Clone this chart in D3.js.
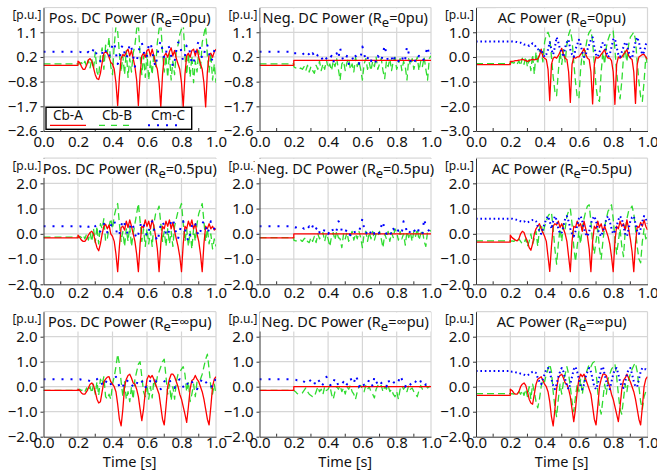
<!DOCTYPE html>
<html lang="en">
<head>
<meta charset="utf-8">
<title>DC / AC power</title>
<script src="https://cdn.jsdelivr.net/npm/d3@7"></script>
<style>
  body { margin: 0; background: #fff; }
  svg { font-family: "Noto Sans", "Open Sans", sans-serif; }
</style>
</head>
<body>
<svg width="657" height="472"></svg>
<script>
// sample times after the fault (s); before 0.2 s every series is flat
var tPost = [0.20,0.21,0.22,0.23,0.24,0.25,0.26,0.27,0.28,0.29,
             0.30,0.31,0.32,0.33,0.34,0.35,0.36,0.37,0.38,0.39,
             0.40,0.41,0.42,0.43,0.44,0.45,0.46,0.47,0.48,0.49,
             0.50,0.51,0.52,0.53,0.54,0.55,0.56,0.57,0.58,0.59,
             0.60,0.61,0.62,0.63,0.64,0.65,0.66,0.67,0.68,0.69,
             0.70,0.71,0.72,0.73,0.74,0.75,0.76,0.77,0.78,0.79,
             0.80,0.81,0.82,0.83,0.84,0.85,0.86,0.87,0.88,0.89,
             0.90,0.91,0.92,0.93,0.94,0.95,0.96,0.97,0.98,0.99,1.00];

var seriesNames = ["Cb-A", "Cb-B", "Cm-C"];
var xTicks = [0, 0.2, 0.4, 0.6, 0.8, 1.0];
var xMinor = [0.1, 0.3, 0.5, 0.7, 0.9];
var yTicksDcTop = [-2.6, -1.68, -0.76, 0.16, 1.08];
var yTicksAcTop = [-3, -2, -1, 0, 1];
var yTicksLow = [-2, -1, 0, 1, 2];
var reLabels = ["0", "0.5", "\u221e"];

// pre-fault levels [Cb-A, Cb-B, Cm-C]
var prePosR0 = [-0.15, -0.1, 0.35];
var preNegR0 = [-0.15, -0.1, 0.35];
var preAcR0 = [-0.31, -0.27, 0.63];
var prePosR05 = [-0.16, -0.13, 0.3];
var preNegR05 = [-0.16, -0.15, 0.3];
var preAcR05 = [-0.33, -0.28, 0.6];
var prePosRinf = [-0.15, -0.15, 0.3];
var preNegRinf = [-0.15, -0.15, 0.3];
var preAcRinf = [-0.35, -0.28, 0.63];

// ---- Re = 0 ----
var posR0A = [0.0,-0.05,-0.2,-0.3,-0.3,-0.15,0.05,0.1,0.0,-0.25,
  -0.5,-0.65,-0.68,-0.45,-0.05,0.3,0.35,0.3,0.15,-0.05,
  -0.1,-0.3,-0.8,-1.65,-0.6,0.1,0.25,0.2,0.35,0.45,
  0.2,0.4,0.1,-0.2,-0.7,-1.65,-0.5,0.2,0.3,0.15,
  0.4,0.45,0.2,0.45,0.2,-0.1,-0.3,-0.8,-1.7,-0.5,
  0.2,0.3,0.15,0.35,0.5,0.2,0.4,0.1,-0.1,-0.3,
  -0.8,-1.7,-0.5,0.2,0.3,0.15,0.4,0.45,0.2,0.45,
  0.15,-0.1,-0.3,-0.8,-1.7,-0.4,0.25,0.3,0.15,0.35,0.45];
var posR0B = [-0.1,-0.1,-0.05,-0.15,0.0,-0.2,0.05,-0.25,0.1,-0.3,
  0.35,-0.4,-0.55,0.2,0.5,-0.3,0.6,0.3,0.9,-0.2,
  -0.5,0.6,1.3,1.1,0.3,-0.4,0.2,-0.5,0.4,-0.6,
  0.1,-0.4,0.3,0.6,1.2,1.4,0.2,-0.5,0.2,-0.6,
  0.3,-0.7,0.0,-0.5,0.3,-0.2,0.7,1.2,1.4,0.3,
  -0.4,0.2,-0.6,0.3,-0.7,0.0,-0.5,0.4,0.6,1.0,
  1.2,1.4,0.2,-0.5,0.3,-0.6,0.2,-0.8,0.0,-0.4,
  0.4,-0.3,0.7,1.0,1.3,0.2,-0.4,0.3,-0.7,-0.1,-0.8];
var posR0C = [0.35,0.35,0.33,0.3,0.35,0.3,0.35,0.25,0.3,0.45,
  0.5,0.15,0.1,0.0,0.3,0.5,0.4,0.2,0.15,0.4,
  0.6,0.7,0.3,-0.1,0.0,0.5,0.6,0.3,0.1,0.3,
  0.65,0.5,0.2,-0.2,0.0,0.3,0.6,0.7,0.4,0.1,
  0.2,0.6,0.7,0.4,0.0,-0.2,0.2,0.6,0.75,0.4,
  0.1,0.3,0.6,0.5,0.2,-0.2,0.0,0.4,0.7,0.7,
  0.3,0.0,0.2,0.6,0.6,0.3,-0.1,-0.1,0.3,0.6,
  0.75,0.4,0.1,0.2,0.6,0.6,0.3,0.0,0.1,0.4,0.6];

var negR0A = [0.03,0.03,0.03,0.03,0.03,0.03,0.03,0.03,0.03,0.03,
  0.03,0.03,0.03,0.03,0.03,0.03,0.03,0.03,0.03,0.03,
  0.03,0.03,0.03,0.03,0.03,0.03,0.03,0.03,0.03,0.03,
  0.03,0.03,0.03,0.03,0.03,0.03,0.03,0.03,0.03,0.03,
  0.03,0.03,0.03,0.03,0.03,0.03,0.03,0.03,0.03,0.03,
  0.03,0.03,0.03,0.03,0.03,0.03,0.03,0.03,0.03,0.03,
  0.03,0.03,0.03,0.03,0.03,0.03,0.03,0.03,0.03,0.03,
  0.03,0.03,0.03,0.03,0.03,0.03,0.03,0.03,0.03,0.03,0.03];
var negR0B = [-0.2,-0.25,-0.25,-0.3,-0.25,-0.3,-0.2,-0.35,-0.15,-0.4,
  -0.2,-0.35,-0.45,-0.15,-0.3,0.0,-0.35,-0.1,-0.3,0.05,
  -0.25,-0.1,-0.35,0.0,-0.2,0.1,-0.3,-0.7,-0.1,0.0,
  -0.35,-0.05,0.1,-0.3,-0.1,-0.4,0.15,-0.2,0.0,-0.3,
  -0.7,-0.1,0.1,-0.3,-0.05,-0.35,0.0,-0.2,0.15,-0.3,
  -0.1,0.1,-0.35,-0.65,0.0,-0.2,0.1,-0.35,0.0,0.15,
  -0.3,-0.1,0.1,-0.35,0.0,-0.2,-0.7,0.1,-0.15,0.1,
  -0.3,-0.05,0.15,-0.35,0.0,-0.2,0.15,-0.3,-0.7,0.1,0.2];
var negR0C = [0.3,0.3,0.3,0.28,0.3,0.25,0.3,0.2,0.3,0.25,
  0.15,0.3,0.2,0.1,0.25,0.3,0.15,0.05,0.2,0.1,
  0.0,0.1,0.2,-0.05,0.15,0.3,0.1,0.5,0.2,0.0,
  0.05,0.2,-0.1,0.1,0.15,0.0,0.2,0.05,-0.1,0.15,
  0.55,0.3,0.0,0.1,0.2,0.0,0.15,0.1,-0.05,0.2,
  0.1,0.0,0.3,0.6,0.25,0.0,0.1,0.15,-0.05,0.2,
  0.1,0.0,0.15,0.2,-0.05,0.1,0.55,0.3,0.0,0.1,
  0.15,-0.05,0.1,0.2,0.05,0.0,0.1,0.3,0.55,0.2,0.3];

var acR0A = [-0.18,-0.18,-0.17,-0.15,-0.15,-0.13,-0.12,-0.1,-0.12,-0.15,
  -0.18,-0.15,-0.12,-0.1,-0.12,-0.1,-0.08,0.05,0.32,0.0,
  -0.05,-0.1,-0.5,-1.77,-0.3,-0.05,0.0,-0.05,0.05,0.2,
  0.35,0.1,-0.05,-0.1,-0.6,-1.84,-0.3,0.0,-0.05,0.0,
  0.0,0.1,0.2,0.35,0.1,-0.05,-0.1,-0.6,-1.9,-0.3,
  0.0,-0.05,0.0,0.1,0.2,0.3,0.05,-0.05,-0.05,-0.15,
  -0.6,-1.92,-0.3,0.0,-0.05,0.0,0.1,0.2,0.3,0.05,
  -0.05,-0.1,-0.6,-1.88,-0.3,0.0,0.05,0.1,0.1,0.0,-0.1];
var acR0B = [-0.25,-0.22,-0.25,-0.2,-0.3,-0.15,-0.35,-0.05,-0.3,0.0,
  -0.4,-0.1,-0.55,0.1,-0.7,0.2,-0.3,0.3,0.25,-0.2,
  0.6,0.9,1.0,0.8,0.0,-0.8,-1.4,-1.57,-0.6,0.2,
  -0.3,0.3,-0.2,0.5,0.9,1.1,0.7,-0.2,-1.0,-1.6,
  -1.7,-0.5,0.2,-0.3,0.4,0.8,1.0,1.1,0.6,-0.3,
  -1.2,-1.7,-1.8,-0.6,0.2,-0.3,0.4,0.7,0.9,1.0,
  1.05,0.3,-0.6,-1.3,-1.7,-1.0,0.0,0.3,-0.2,0.5,
  0.8,0.9,1.0,0.7,-0.2,-1.0,-1.6,-1.8,-1.0,0.0,-0.3];
var acR0C = [0.63,0.63,0.62,0.62,0.6,0.58,0.58,0.55,0.5,0.5,
  0.5,0.45,0.5,0.55,0.5,0.4,0.35,0.2,0.3,0.15,
  0.0,0.1,0.3,0.6,0.3,0.1,0.4,0.8,0.6,0.3,
  0.2,0.0,0.4,0.6,0.7,0.3,0.1,0.0,0.3,0.5,
  0.7,0.5,0.2,0.0,0.1,0.3,0.5,0.7,0.8,0.4,
  0.1,0.0,0.2,0.4,0.6,0.5,0.2,0.0,0.1,0.4,
  0.7,0.75,0.4,0.1,0.0,0.2,0.4,0.6,0.5,0.2,
  0.0,-0.05,0.3,0.6,0.8,0.6,0.3,0.1,0.2,0.5,0.65];

// ---- Re = 0.5 ----
var posR05A = [-0.05,-0.15,-0.25,-0.3,-0.3,-0.2,-0.05,0.05,0.1,0.0,
  -0.3,-0.55,-0.67,-0.4,0.0,0.3,0.38,0.2,0.35,0.0,
  -0.1,-0.3,-0.8,-1.5,-0.5,0.25,0.3,0.15,0.5,0.25,
  0.55,0.3,0.0,-0.3,-0.8,-1.5,-0.4,0.3,0.25,0.55,
  0.3,0.5,0.2,0.55,0.3,-0.1,-0.6,-1.5,-0.4,0.3,
  0.2,0.5,0.3,0.55,0.2,0.45,0.1,-0.2,-0.5,-0.9,
  -1.5,-0.4,0.3,0.2,0.5,0.3,0.55,0.2,0.4,0.0,
  -0.3,-0.8,-1.5,-0.4,0.3,0.2,0.4,0.2,0.3,0.15,0.2];
var posR05B = [-0.15,-0.1,-0.15,-0.05,-0.2,0.0,-0.25,0.05,-0.3,0.2,
  -0.35,0.3,-0.4,0.4,0.2,0.6,-0.3,-0.2,0.3,0.6,
  0.2,0.7,1.0,1.2,0.4,-0.3,0.1,-0.5,0.2,-0.3,
  0.3,-0.5,0.0,0.4,0.8,1.2,0.5,-0.3,0.2,-0.5,
  0.2,-0.4,0.1,-0.5,0.4,0.8,0.9,1.1,0.4,-0.3,
  0.1,-0.5,0.2,-0.4,0.1,-0.5,0.3,0.6,0.9,1.0,
  1.2,0.4,-0.3,0.2,-0.5,0.1,-0.6,0.2,-0.3,0.4,
  0.8,1.0,1.2,0.5,-0.3,0.2,-0.4,0.0,-0.6,-0.2,-0.5];
var posR05C = [0.3,0.3,0.28,0.3,0.25,0.3,0.28,0.3,0.35,0.4,
  0.3,0.2,0.05,0.1,0.3,0.4,0.3,0.05,0.1,0.3,
  0.5,0.55,0.2,-0.1,0.0,0.3,0.55,0.4,0.1,0.0,
  0.2,0.45,0.3,0.0,-0.2,0.0,0.3,0.5,0.4,0.1,
  -0.1,0.1,0.4,0.5,0.2,-0.1,-0.3,0.0,0.4,0.5,
  0.3,0.0,-0.1,0.2,0.5,0.6,0.3,0.0,-0.2,0.1,
  0.4,0.5,0.2,-0.1,-0.3,0.0,0.3,0.5,0.4,0.1,
  -0.1,0.1,0.4,0.5,0.3,0.0,0.2,0.5,0.4,0.2,0.3];

var negR05A = [0,0,0,0,0,0,0,0,0,0, 0,0,0,0,0,0,0,0,0,0,
  0,0,0,0,0,0,0,0,0,0, 0,0,0,0,0,0,0,0,0,0,
  0,0,0,0,0,0,0,0,0,0, 0,0,0,0,0,0,0,0,0,0,
  0,0,0,0,0,0,0,0,0,0, 0,0,0,0,0,0,0,0,0,0, 0];
var negR05B = [-0.25,-0.28,-0.28,-0.3,-0.25,-0.3,-0.2,-0.15,-0.3,-0.35,
  -0.15,-0.3,-0.1,-0.35,0.0,-0.2,-0.1,0.05,-0.3,0.0,
  -0.2,-0.5,-0.1,0.05,-0.25,0.1,-0.15,-0.2,-0.55,0.0,
  -0.2,0.05,-0.3,-0.1,0.1,-0.25,0.0,-0.2,0.1,-0.15,
  -0.55,0.0,0.1,-0.3,0.05,-0.2,0.1,-0.25,0.0,-0.1,
  0.1,-0.2,-0.55,0.0,-0.2,0.1,-0.3,0.05,-0.15,0.2,
  0.05,-0.25,0.1,-0.2,0.0,-0.45,0.1,-0.15,0.05,-0.3,
  0.1,-0.1,0.2,-0.25,0.0,0.15,-0.3,-0.5,0.1,0.15,0.1];
var negR05C = [0.28,0.25,0.28,0.25,0.3,0.25,0.2,0.3,0.2,0.3,
  0.15,0.3,0.1,0.2,0.3,0.05,0.1,0.0,0.2,0.15,
  0.0,0.1,0.25,0.1,0.0,0.15,0.5,0.45,0.1,0.0,
  0.05,0.2,0.0,-0.05,0.1,0.15,0.0,0.05,0.1,0.3,
  0.6,0.2,0.0,0.1,-0.05,0.1,0.2,0.0,0.1,0.15,
  0.0,0.3,0.5,0.1,0.0,0.15,0.1,-0.05,0.2,0.1,
  0.0,0.15,0.2,0.05,0.5,0.4,0.0,0.1,0.05,-0.05,
  0.1,0.15,0.0,0.2,0.05,0.0,0.6,0.3,0.2,0.1,0.2];

var acR05A = [-0.05,-0.15,-0.2,-0.25,-0.28,-0.2,0.0,0.1,0.05,-0.15,
  -0.3,-0.55,-0.65,-0.4,0.0,0.2,0.3,0.4,0.2,0.05,
  -0.1,-0.3,-0.9,-1.49,-0.5,0.3,0.4,0.35,0.5,0.25,
  0.4,0.2,0.0,-0.3,-0.9,-1.5,-0.3,0.3,0.25,0.5,
  0.3,0.4,0.1,0.5,0.2,-0.1,-0.6,-1.5,-0.3,0.3,
  0.2,0.5,0.25,0.4,0.1,0.3,0.1,-0.1,-0.4,-0.9,
  -1.5,-0.3,0.3,0.2,0.5,0.3,0.4,0.15,0.55,0.2,
  -0.2,-0.7,-1.5,-0.4,0.3,0.25,0.45,0.3,0.55,0.3,0.15];
var acR05B = [-0.3,-0.28,-0.3,-0.25,-0.3,-0.2,-0.3,-0.4,-0.35,-0.2,
  -0.5,-0.3,0.0,-0.4,-0.2,0.1,-0.5,0.2,0.4,0.0,
  0.3,0.5,0.7,0.8,0.85,0.2,-0.6,-1.2,-0.4,0.2,
  -0.3,0.4,0.2,0.7,0.9,1.0,0.4,-0.5,-1.1,-0.5,
  0.1,-0.4,0.3,0.6,0.9,1.1,1.15,0.5,-0.4,-0.8,
  -0.3,0.2,-0.6,-1.0,-0.3,0.3,0.6,0.9,1.0,1.15,
  0.6,-0.2,-0.8,-0.3,0.2,-0.5,-0.9,0.1,0.6,0.9,
  1.0,1.1,0.8,0.2,-0.5,-1.0,-1.15,-0.3,0.2,-0.2,-0.1];
var acR05C = [0.6,0.6,0.58,0.57,0.55,0.52,0.5,0.48,0.5,0.45,
  0.45,0.48,0.5,0.55,0.55,0.5,0.3,0.1,0.0,0.2,
  0.4,0.6,0.7,0.5,0.2,0.5,0.7,0.55,0.2,0.0,
  0.05,0.3,0.6,0.7,0.5,0.2,0.0,-0.1,0.1,0.3,
  0.6,0.7,0.5,0.2,0.0,-0.1,0.1,0.4,0.6,0.7,
  0.5,0.2,0.0,-0.1,0.1,0.3,0.6,0.7,0.5,0.2,
  0.0,0.1,0.3,0.55,0.7,0.6,0.3,0.0,-0.1,0.2,
  0.5,0.65,0.7,0.4,0.1,0.0,0.2,0.5,0.7,0.6,0.4];

// ---- Re = infinity ----
var posRinfA = [-0.1,-0.15,-0.25,-0.3,-0.3,-0.2,-0.05,0.1,0.15,0.05,
  -0.2,-0.5,-0.65,-0.6,-0.2,0.2,0.3,0.38,0.4,0.2,
  0.1,0.0,-0.2,-0.7,-1.3,-1.57,-0.9,0.0,0.3,0.45,
  0.5,0.35,0.15,0.1,-0.1,-0.4,-0.9,-1.36,-0.9,-0.2,
  0.3,0.45,0.35,0.45,0.3,0.1,-0.1,-0.3,-0.8,-1.3,
  -1.53,-0.8,0.0,0.3,0.5,0.5,0.4,0.2,0.0,-0.3,
  -0.5,-0.8,-1.1,-1.43,-0.8,-0.1,0.25,0.3,0.45,0.3,
  0.2,0.0,-0.2,-0.5,-0.9,-1.3,-1.53,-0.8,0.0,0.3,0.4];
var posRinfB = [-0.15,-0.1,-0.15,-0.1,-0.2,-0.05,-0.2,0.0,-0.25,0.1,
  -0.3,0.2,-0.35,0.3,0.1,0.4,-0.4,-0.5,-0.3,-0.5,
  0.1,0.4,0.8,1.3,0.9,0.2,-0.4,0.2,-0.5,-0.2,
  -0.6,0.0,-0.5,0.3,0.6,0.9,1.0,0.4,-0.2,-0.4,
  0.1,-0.5,0.0,-0.45,0.3,0.0,0.4,0.6,0.8,1.0,
  1.1,0.4,-0.3,0.1,-0.55,0.0,-0.5,0.2,0.5,0.6,
  0.7,0.8,0.5,-0.2,0.2,-0.6,-0.3,0.1,-0.4,0.2,
  0.2,0.3,0.5,0.8,1.1,1.3,0.7,0.0,-0.3,0.1,-0.3];
var posRinfC = [0.3,0.3,0.28,0.25,0.25,0.27,0.25,0.22,0.2,0.25,
  0.3,0.3,0.35,0.3,0.1,0.0,0.15,0.3,0.25,0.1,
  0.2,0.3,0.4,0.2,0.0,-0.1,0.0,0.2,0.3,0.2,
  0.25,0.1,0.0,-0.05,0.1,0.3,0.3,0.2,0.25,0.0,
  -0.05,0.1,0.25,0.3,0.2,0.25,0.1,0.0,-0.1,0.0,
  0.2,0.3,0.25,0.3,0.1,0.0,-0.05,0.1,0.25,0.3,
  0.2,0.0,-0.1,0.05,0.2,0.3,0.2,0.1,0.0,-0.1,
  0.0,0.2,0.3,0.35,0.2,0.1,0.0,-0.05,0.1,0.3,0.25];

var negRinfA = [0,0,0,0,0,0,0,0,0,0, 0,0,0,0,0,0,0,0,0,0,
  0,0,0,0,0,0,0,0,0,0, 0,0,0,0,0,0,0,0,0,0,
  0,0,0,0,0,0,0,0,0,0, 0,0,0,0,0,0,0,0,0,0,
  0,0,0,0,0,0,0,0,0,0, 0,0,0,0,0,0,0,0,0,0, 0];
var negRinfB = [-0.15,-0.2,-0.28,-0.3,-0.28,-0.25,-0.15,-0.05,-0.2,-0.3,
  -0.35,-0.4,-0.4,-0.2,0.0,-0.2,-0.1,-0.3,0.0,-0.15,
  -0.1,0.05,-0.3,-0.5,-0.2,0.0,-0.1,0.05,-0.2,-0.05,
  -0.3,0.0,-0.1,0.05,-0.2,-0.3,-0.5,-0.2,0.0,0.05,
  -0.1,-0.2,0.05,-0.1,0.0,-0.2,-0.3,-0.45,-0.1,0.05,
  -0.05,0.05,-0.2,0.0,-0.1,0.05,-0.2,-0.1,-0.3,-0.4,
  -0.2,-0.5,-0.1,0.05,-0.1,0.0,-0.2,0.05,-0.1,-0.05,
  -0.2,-0.3,-0.4,-0.15,0.05,-0.1,0.0,0.05,-0.05,0.0,0.05];
var negRinfC = [0.3,0.28,0.25,0.25,0.3,0.25,0.2,0.15,0.25,0.3,
  0.2,0.3,0.15,0.1,0.3,0.2,0.0,0.1,0.2,0.4,
  0.2,0.1,0.0,0.15,0.35,0.2,0.05,0.0,0.1,0.2,
  0.0,0.1,0.15,0.35,0.2,0.1,0.45,0.3,0.0,0.1,
  0.2,0.05,0.0,0.1,0.3,0.2,0.0,0.4,0.2,0.1,
  0.0,0.15,0.2,0.1,0.0,0.3,0.1,0.05,0.15,0.2,
  0.1,0.2,0.45,0.3,0.1,0.0,0.2,0.15,0.1,0.0,
  0.1,0.2,0.3,0.35,0.2,0.05,0.0,0.1,0.05,0.0,0.05];

var acRinfA = [-0.1,-0.15,-0.25,-0.3,-0.3,-0.2,0.0,0.1,0.15,0.05,
  -0.2,-0.5,-0.65,-0.7,-0.3,0.1,0.3,0.35,0.4,0.25,
  0.1,0.0,-0.2,-0.6,-1.2,-1.57,-0.9,-0.1,0.35,0.45,
  0.5,0.35,0.15,0.1,-0.1,-0.4,-0.9,-1.4,-0.9,-0.2,
  0.3,0.5,0.4,0.5,0.3,0.1,-0.1,-0.3,-0.8,-1.3,
  -1.53,-0.8,0.0,0.3,0.5,0.5,0.45,0.2,0.0,-0.3,
  -0.5,-0.8,-1.1,-1.4,-0.8,-0.1,0.25,0.35,0.5,0.35,
  0.2,0.0,-0.2,-0.5,-0.9,-1.3,-1.53,-0.8,0.0,0.3,0.4];
var acRinfB = [-0.3,-0.28,-0.3,-0.25,-0.3,-0.2,-0.3,-0.15,-0.35,-0.1,
  -0.4,0.0,-0.5,0.1,-0.2,-0.6,-0.85,-0.5,0.0,0.3,
  0.2,0.5,0.7,0.9,0.6,-0.2,-0.8,-1.2,-0.5,0.1,
  -0.3,0.2,0.5,0.8,0.5,0.0,-0.6,-1.0,-0.4,0.1,
  -0.2,0.3,-0.3,0.2,0.5,0.7,0.9,0.8,0.95,1.0,
  0.6,-0.2,-0.8,-1.1,-0.5,0.1,-0.3,0.3,0.5,0.7,
  0.8,0.9,0.4,-0.3,-0.9,-1.1,-0.5,0.1,-0.2,0.3,
  0.5,0.7,0.85,0.95,0.6,0.0,-0.6,-0.9,-0.4,-0.2,-0.25];
var acRinfC = [0.62,0.6,0.6,0.58,0.57,0.55,0.52,0.5,0.48,0.45,
  0.45,0.5,0.55,0.6,0.6,0.55,0.35,0.2,0.1,0.3,
  0.5,0.7,0.75,0.6,0.3,0.05,-0.1,0.1,0.4,0.6,
  0.75,0.6,0.3,0.05,-0.1,0.1,0.4,0.7,0.8,0.6,
  0.3,0.0,-0.1,0.1,0.4,0.6,0.75,0.6,0.3,0.0,
  -0.1,0.1,0.4,0.7,0.8,0.5,0.2,0.0,-0.1,0.2,
  0.5,0.7,0.75,0.5,0.2,0.0,-0.05,0.2,0.5,0.7,
  0.75,0.5,0.2,0.0,0.0,0.3,0.6,0.75,0.7,0.7,0.65];

// ---------- layout ----------
var svg = d3.select("svg");
var colX = [[43.5, 216], [259.5, 431], [476, 647.5]];
var rowY = [[7.6, 131], [158.1, 284.3], [311.7, 436.7]];
var rowLabelPad = [5.5, 3.5, 0.5];

var panels = [
  {row: 0, col: 0, name: "Pos. DC Power", dom: [-2.6, 2.0], ticks: yTicksDcTop, pre: prePosR0, data: [posR0A, posR0B, posR0C]},
  {row: 0, col: 1, name: "Neg. DC Power", dom: [-2.6, 2.0], ticks: yTicksDcTop, pre: preNegR0, data: [negR0A, negR0B, negR0C]},
  {row: 0, col: 2, name: "AC Power", dom: [-3, 2], ticks: yTicksAcTop, pre: preAcR0, data: [acR0A, acR0B, acR0C]},
  {row: 1, col: 0, name: "Pos. DC Power", dom: [-2, 3], ticks: yTicksLow, pre: prePosR05, data: [posR05A, posR05B, posR05C]},
  {row: 1, col: 1, name: "Neg. DC Power", dom: [-2, 3], ticks: yTicksLow, pre: preNegR05, data: [negR05A, negR05B, negR05C]},
  {row: 1, col: 2, name: "AC Power", dom: [-2, 3], ticks: yTicksLow, pre: preAcR05, data: [acR05A, acR05B, acR05C]},
  {row: 2, col: 0, name: "Pos. DC Power", dom: [-2, 3], ticks: yTicksLow, pre: prePosRinf, data: [posRinfA, posRinfB, posRinfC]},
  {row: 2, col: 1, name: "Neg. DC Power", dom: [-2, 3], ticks: yTicksLow, pre: preNegRinf, data: [negRinfA, negRinfB, negRinfC]},
  {row: 2, col: 2, name: "AC Power", dom: [-2, 3], ticks: yTicksLow, pre: preAcRinf, data: [acRinfA, acRinfB, acRinfC]}
];

var colors = ["#ff0000", "#2fdc2f", "#0000ff"];
var widths = [1.3, 1.3, 2];
var drawOrder = [1, 0, 2];

panels.forEach(function(p, k) {
  var x0 = colX[p.col][0], x1 = colX[p.col][1];
  var yTop = rowY[p.row][0], yBot = rowY[p.row][1];
  var isAc = p.col === 2;

  var x = d3.scaleLinear().domain([0, 1]).range([x0, x1]);
  var y = d3.scaleLinear().domain(p.dom).range([yBot, yTop]);

  var g = svg.append("g");

  // grid + light frame
  g.selectAll(".vg").data(xTicks.slice(1)).enter().append("line")
    .attr("x1", function(d) { return x(d); }).attr("x2", function(d) { return x(d); })
    .attr("y1", yTop).attr("y2", yBot)
    .attr("stroke", "#d6d6d6").attr("stroke-width", 1.2);
  g.selectAll(".hg").data(p.ticks.slice(1).concat([p.dom[1]])).enter().append("line")
    .attr("x1", x0).attr("x2", x1)
    .attr("y1", function(d) { return y(d); }).attr("y2", function(d) { return y(d); })
    .attr("stroke", "#d6d6d6").attr("stroke-width", 1.2);

  // series
  svg.append("clipPath").attr("id", "clip" + k).append("rect")
    .attr("x", x0).attr("y", yTop).attr("width", x1 - x0).attr("height", yBot - yTop);

  var line = d3.line().x(function(d) { return x(d[0]); }).y(function(d) { return y(d[1]); });

  drawOrder.forEach(function(s) {
    var pts = [[0, p.pre[s]], [0.2, p.pre[s]]].concat(tPost.map(function(t, i) { return [t, p.data[s][i]]; }));
    var dash = s === 1 ? "7,4" : (s === 2 ? (isAc ? "1.6,2.8" : "2,7") : null);
    g.append("path")
      .datum(pts)
      .attr("clip-path", "url(#clip" + k + ")")
      .attr("fill", "none")
      .attr("stroke", colors[s])
      .attr("stroke-width", widths[s])
      .attr("stroke-dasharray", dash)
      .attr("stroke-linejoin", "round")
      .attr("d", line);
  });

  // axes
  var ax = g.append("g")
    .attr("transform", "translate(0," + yBot + ")")
    .call(d3.axisBottom(x).tickValues(xTicks).tickFormat(d3.format(".1f")).tickSize(0).tickPadding(rowLabelPad[p.row]));
  var ay = g.append("g")
    .attr("transform", "translate(" + x0 + ",0)")
    .call(d3.axisLeft(y).tickValues(p.ticks).tickFormat(d3.format(".1f")).tickSize(3).tickPadding(3).tickSizeOuter(0));
  [ax, ay].forEach(function(a) {
    a.attr("font-family", null).attr("font-size", 15);
    a.select(".domain").attr("stroke", "#333");
    a.selectAll(".tick line").attr("stroke", "#333");
    a.selectAll("text").attr("fill", "#111");
  });
  g.selectAll(".minor").data(xMinor).enter().append("line")
    .attr("x1", function(d) { return x(d); }).attr("x2", function(d) { return x(d); })
    .attr("y1", yBot).attr("y2", yBot - 3)
    .attr("stroke", "#333");

  // unit label at top of y axis
  g.append("text")
    .attr("x", x0 - 2).attr("y", yTop + 11.5)
    .attr("text-anchor", "end")
    .attr("font-size", 12)
    .attr("fill", "#111")
    .text("[p.u.]");

  // title with white backing
  var tg = g.append("g");
  var title = tg.append("text")
    .attr("x", (x0 + x1) / 2).attr("y", yTop + 15.5)
    .attr("text-anchor", "middle")
    .attr("font-size", 14.5)
    .attr("fill", "#111");
  title.append("tspan").text(p.name + " (R");
  title.append("tspan").attr("dy", 4).attr("font-size", 13).text("e");
  title.append("tspan").attr("dy", -4).text("=" + reLabels[p.row] + "pu)");
  var bb = title.node().getBBox();
  tg.insert("rect", "text")
    .attr("x", bb.x - 2).attr("y", yTop + 0.8)
    .attr("width", bb.width + 4).attr("height", 19)
    .attr("fill", "#fff");

  if (p.row === 2) {
    g.append("text")
      .attr("x", (x0 + x1) / 2).attr("y", 466.5)
      .attr("text-anchor", "middle")
      .attr("font-size", 14.5)
      .attr("fill", "#111")
      .text("Time [s]");
  }
});

// legend in the first panel
var leg = svg.append("g");
leg.append("rect")
  .attr("x", 46).attr("y", 107.3).attr("width", 145.7).attr("height", 22)
  .attr("fill", "#fff").attr("stroke", "#000").attr("stroke-width", 1.4);
var legX = [52, 101, 150];
seriesNames.forEach(function(n, s) {
  leg.append("text")
    .attr("x", legX[s] + 1).attr("y", 119.5)
    .attr("font-size", 13.5).attr("fill", "#111")
    .text(n);
  leg.append("line")
    .attr("x1", legX[s] - 2).attr("x2", legX[s] + 34)
    .attr("y1", 125.3).attr("y2", 125.3)
    .attr("stroke", colors[s]).attr("stroke-width", widths[s])
    .attr("stroke-dasharray", s === 1 ? "6,6" : (s === 2 ? "2,7" : null));
});
</script>
</body>
</html>
